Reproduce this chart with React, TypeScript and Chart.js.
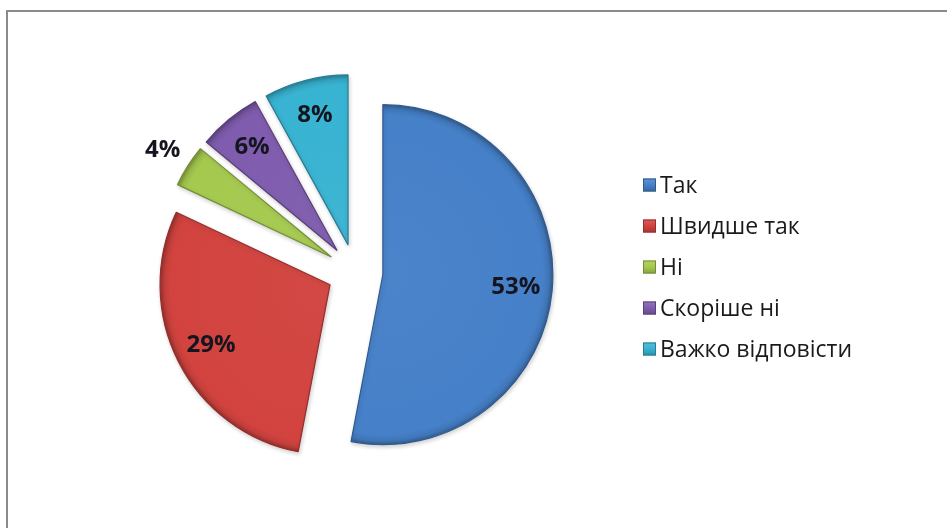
import React, { useEffect, useRef } from "react";
import { Chart, registerables } from "chart.js";

Chart.register(...registerables);

const categories = ["Так", "Швидше так", "Ні", "Скоріше ні", "Важко відповісти"];
const values = [53, 29, 4, 6, 8];
const palette = ["#4680C8", "#D2433F", "#A5C94F", "#7F5CAE", "#38B3D2"];

const EXPLODE = 28;
const RADIUS = 170;
const LEGEND_X = 643;
const LEGEND_Y0 = 185;
const LEGEND_STEP = 41;
const LEGEND_BOX = 13;

function shade(hex: string, f: number): string {
  const n = parseInt(hex.slice(1), 16);
  let r = (n >> 16) & 255, g = (n >> 8) & 255, b = n & 255;
  if (f >= 0) {
    r = r + (255 - r) * f; g = g + (255 - g) * f; b = b + (255 - b) * f;
  } else {
    r = r * (1 + f); g = g * (1 + f); b = b * (1 + f);
  }
  return `rgb(${Math.round(r)},${Math.round(g)},${Math.round(b)})`;
}

const explodePlugin = {
  id: "explode",
  afterDatasetUpdate(chart: any) {
    chart.getDatasetMeta(0).data.forEach((el: any) => {
      if (el.__wrapped) return;
      const orig = el.draw.bind(el);
      el.draw = (ctx: CanvasRenderingContext2D) => {
        const mid = (el.startAngle + el.endAngle) / 2;
        ctx.save();
        ctx.translate(Math.cos(mid) * EXPLODE, Math.sin(mid) * EXPLODE);
        ctx.shadowColor = "rgba(0,0,0,0.18)";
        ctx.shadowBlur = 4;
        ctx.shadowOffsetX = 1;
        ctx.shadowOffsetY = 2;
        orig(ctx);
        ctx.restore();
      };
      el.__wrapped = true;
    });
  },
};

const labelPlugin = {
  id: "sliceLabels",
  afterDatasetsDraw(chart: any) {
    const meta = chart.getDatasetMeta(0);
    const ctx = chart.ctx as CanvasRenderingContext2D;
    const total = values.reduce((a, b) => a + b, 0);
    ctx.save();
    ctx.font = "bold 24px 'Open Sans'";
    ctx.fillStyle = "#15151f";
    ctx.textAlign = "center";
    ctx.textBaseline = "middle";
    meta.data.forEach((el: any, i: number) => {
      const mid = (el.startAngle + el.endAngle) / 2;
      const frac = values[i] / total;
      const d = frac < 0.05 ? RADIUS * 1.34 : RADIUS * 0.95;
      ctx.fillText(`${values[i]}%`, el.x + Math.cos(mid) * d, el.y + Math.sin(mid) * d);
    });
    ctx.restore();
  },
};

const legendPlugin = {
  id: "sideLegend",
  afterDraw(chart: any) {
    const ctx = chart.ctx as CanvasRenderingContext2D;
    ctx.save();
    ctx.font = "23px 'Open Sans'";
    ctx.textAlign = "left";
    ctx.textBaseline = "middle";
    categories.forEach((t, i) => {
      const cy = LEGEND_Y0 + i * LEGEND_STEP;
      const bx = LEGEND_X;
      const by = cy - LEGEND_BOX / 2;
      const g = ctx.createLinearGradient(bx, by, bx, by + LEGEND_BOX);
      g.addColorStop(0, shade(palette[i], 0.15));
      g.addColorStop(0.5, palette[i]);
      g.addColorStop(1, shade(palette[i], -0.2));
      ctx.fillStyle = g;
      ctx.fillRect(bx, by, LEGEND_BOX, LEGEND_BOX);
      ctx.strokeStyle = shade(palette[i], -0.3);
      ctx.lineWidth = 1;
      ctx.strokeRect(bx + 0.5, by + 0.5, LEGEND_BOX - 1, LEGEND_BOX - 1);
      ctx.fillStyle = "#1a1a1a";
      ctx.fillText(t, bx + LEGEND_BOX + 4, cy + 1);
    });
    ctx.restore();
  },
};

export default function App() {
  const ref = useRef<HTMLCanvasElement>(null);

  useEffect(() => {
    if (!ref.current) return;
    const chart = new Chart(ref.current, {
      type: "pie",
      data: {
        labels: categories,
        datasets: [
          {
            data: values,
            backgroundColor: (c: any) => {
              const base = palette[c.dataIndex];
              const area = c.chart.chartArea;
              if (!area) return base;
              const x = (area.left + area.right) / 2;
              const y = (area.top + area.bottom) / 2;
              const g = c.chart.ctx.createRadialGradient(x, y, 0, x, y, RADIUS);
              g.addColorStop(0, shade(base, 0.03));
              g.addColorStop(0.94, base);
              g.addColorStop(0.975, shade(base, -0.08));
              g.addColorStop(1, shade(base, -0.28));
              return g;
            },
            borderColor: palette.map((p) => shade(p, -0.3)),
            borderWidth: 1.2,
          },
        ],
      },
      options: {
        responsive: false,
        maintainAspectRatio: false,
        animation: false,
        events: [],
        radius: RADIUS,
        layout: { padding: { left: 0, right: 237, top: 16, bottom: 0 } },
        plugins: {
          tooltip: { enabled: false },
          legend: { display: false },
        },
      } as any,
      plugins: [explodePlugin, labelPlugin, legendPlugin],
    });
    return () => chart.destroy();
  }, []);

  return (
    <div style={{ position: "fixed", left: 0, top: 0, width: 947, height: 528, background: "#fff", overflow: "hidden" }}>
      <div
        style={{
          position: "absolute",
          left: 6,
          top: 10,
          right: -10,
          bottom: -10,
          borderTop: "2px solid #8a8a8a",
          borderLeft: "2px solid #8a8a8a",
        }}
      />
      <canvas ref={ref} width={947} height={528} style={{ position: "absolute", left: 0, top: 0 }} />
    </div>
  );
}
